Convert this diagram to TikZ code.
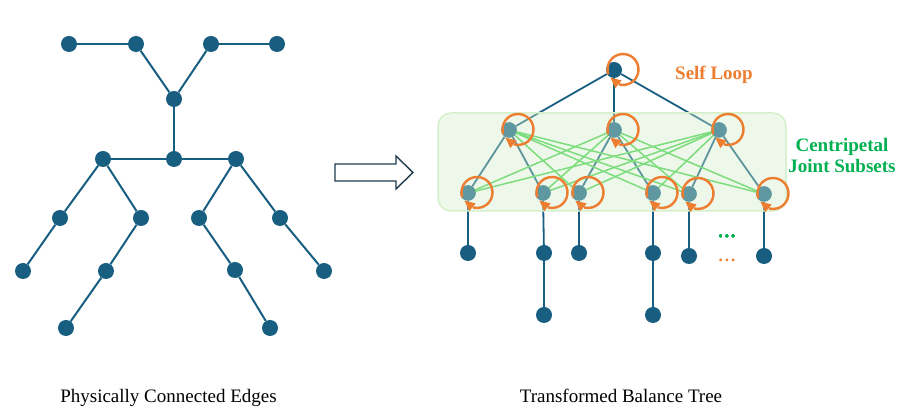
\documentclass[tikz,border=0pt]{standalone}
\usepackage{fontspec}
\setmainfont{Liberation Serif}
\usetikzlibrary{calc}
\definecolor{nodeblue}{RGB}{23,94,128}
\definecolor{nodeteal}{RGB}{95,152,160}
\definecolor{boxfill}{RGB}{211,237,200}
\definecolor{boxline}{RGB}{214,240,202}
\definecolor{greenline}{RGB}{125,220,125}
\definecolor{loopor}{RGB}{237,125,49}
\definecolor{txtgreen}{RGB}{0,176,80}
\definecolor{arrowline}{RGB}{31,59,77}
\tikzset{
  jnode/.style={circle,fill=nodeblue,inner sep=0pt,minimum size=16pt},
  tnode/.style={circle,fill=nodeteal,inner sep=0pt,minimum size=15.5pt},
  bedge/.style={draw=nodeblue,line width=2pt},
  redge/.style={draw=nodeblue,line width=1.8pt},
  gedge/.style={draw=greenline,line width=1.5pt},
  loopsty/.style={draw=loopor,line width=2.4pt},
  lbl/.style={font=\fontsize{19}{23}\selectfont,anchor=base},
  boldlbl/.style={font=\fontsize{19}{22}\selectfont\bfseries},
  dotsty/.style={font=\fontsize{17}{20}\selectfont\bfseries,inner sep=0pt},
}
\newcommand{\selfloopat}[1]{%
  \coordinate (#1lc) at ([shift={(9,0.5)}]#1.center);
  \coordinate (#1lt) at ([shift={(213:15pt)}]#1lc);
  \coordinate (#1lb) at ([shift={(253:15.5pt)}]#1lc);
  \draw[loopsty] ([shift={(198:15.5pt)}]#1lc) arc[start angle=198,end angle=-105,radius=15.5pt];
  \fill[loopor] (#1lt) -- ($(#1lb)!5pt!90:(#1lt)$) -- ($(#1lb)!5pt!-90:(#1lt)$) -- cycle;
}
\begin{document}
\begin{tikzpicture}[x=1pt,y=1pt]
\useasboundingbox (0,0) rectangle (906,420);
% ---------- left skeleton ----------
\foreach \n/\x/\y in {A1/69/376,A2/136/376,A3/211/376,A4/277/376,B/174/321,
  C/174/261,L/103/261,R/236/261,LL/60/202,LR/141/202,RL/199/202,RR/280/202,
  LLL/23/149,LRL/106/149,RLR/235/150,RRR/324/149,LRLL/66/92,RLRR/270/92}
  \node[jnode] (\n) at (\x,\y) {};
\foreach \a/\b in {A1/A2,A2/B,A3/B,A3/A4,B/C,C/L,C/R,L/LL,LL/LLL,L/LR,LR/LRL,
  LRL/LRLL,R/RL,RL/RLR,RLR/RLRR,R/RR,RR/RRR}
  \draw[bedge] (\a) -- (\b);
% ---------- arrow ----------
\node[inner sep=0pt] (arrtip) at (413,247.5) {};
\draw[arrowline,line width=1.4pt,line join=miter,fill=white]
  (335,239) -- (396,239) -- (396,231) -- (arrtip.center) -- (396,264) -- (396,256) -- (335,256) -- cycle;
% ---------- right tree ----------
\node[jnode] (root) at (614,350) {};
\foreach \n/\x/\y in {m1/509/290,m2/614/290,m3/719/290,
  b1/468/227,b2/543/227,b3/579/227,b4/653/227,b5/689/226,b6/764/226}
  \node[tnode] (\n) at (\x,\y) {};
\foreach \n/\x/\y in {c1/468/167,c2/544/167,c3/579/167,c4/653/167,c5/689/164,c6/764/164,
  d2/544/105,d4/653/105}
  \node[jnode] (\n) at (\x,\y) {};
\foreach \a/\b in {root/m1,root/m2,root/m3,m1/b1,m1/b2,m2/b3,m2/b4,m3/b5,m3/b6,
  b1/c1,b2/c2,b3/c3,b4/c4,b5/c5,b6/c6,c2/d2,c4/d4}
  \draw[redge] (\a) -- (\b);
% box over the middle layers
\node[draw=boxline,line width=1.5pt,fill=boxfill,fill opacity=0.38,draw opacity=1,
  rounded corners=13pt,minimum width=348pt,minimum height=98pt,inner sep=0pt] (box) at (612,258) {};
% centripetal green links
\foreach \a/\b in {m1/b3,m1/b4,m1/b5,m1/b6,m2/b1,m2/b2,m2/b5,m2/b6,m3/b1,m3/b2,m3/b3,m3/b4}
  \draw[gedge] (\a.center) -- (\b.center);
% joints inside the box, above the links
\foreach \n in {m1,m2,m3,b1,b2,b3,b4,b5,b6}
  \fill[nodeteal] (\n.center) circle[radius=7.75pt];
% self loops
\foreach \n in {root,m1,m2,m3,b1,b2,b3,b4,b5,b6}
  \selfloopat{\n}
% dots
\node[dotsty,text=txtgreen] (dg) at (727,184) {.\kern2pt.\kern2pt.};
\node[dotsty,text=loopor] (do) at (727,160) {.\kern2pt.\kern2pt.};
% labels
\node[boldlbl,text=loopor,anchor=base west,inner sep=0pt] (selflbl) at (675,340) {Self Loop};
\node[boldlbl,text=txtgreen,anchor=base,inner sep=0pt] (cjs1) at (842,268) {Centripetal};
\node[boldlbl,text=txtgreen,anchor=base,inner sep=0pt] (cjs2) at (842,247) {Joint Subsets};
\node[lbl,inner sep=0pt] (capl) at (168.5,17) {Physically Connected Edges};
\node[lbl,inner sep=0pt] (capr) at (621,17) {Transformed Balance Tree};
\end{tikzpicture}
\end{document}
